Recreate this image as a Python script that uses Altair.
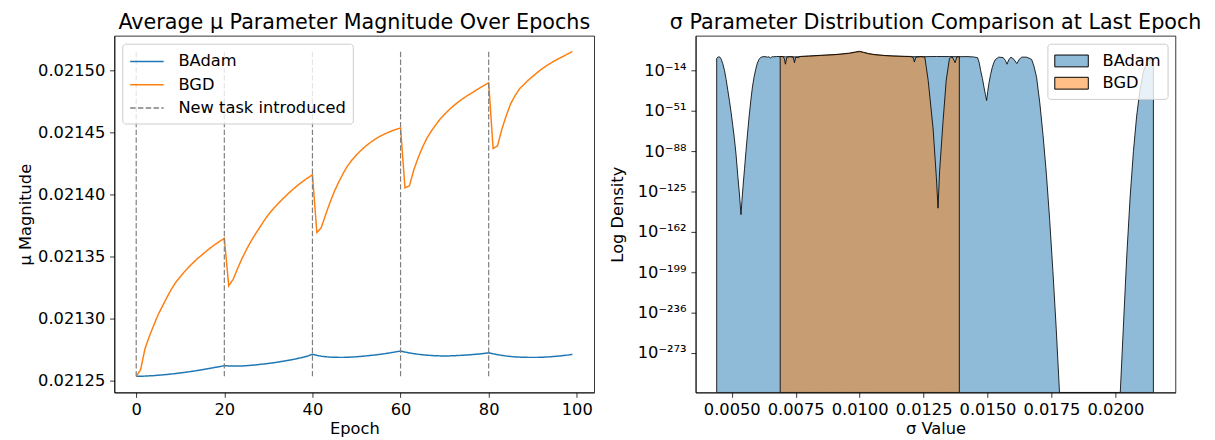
import altair as alt
import pandas as pd

# ---------------- data: left panel ----------------
epochs = list(range(100))
badam_mu = [
    0.0212536, 0.0212537, 0.0212538, 0.0212540, 0.0212542, 0.0212545, 0.0212548, 0.0212551, 0.0212555, 0.0212559,
    0.0212563, 0.0212568, 0.0212573, 0.0212578, 0.0212584, 0.0212590, 0.0212596, 0.0212602, 0.0212609, 0.0212615,
    0.0212622, 0.0212620, 0.0212619, 0.0212619, 0.0212620, 0.0212622, 0.0212625, 0.0212628, 0.0212632, 0.0212636,
    0.0212640, 0.0212645, 0.0212650, 0.0212656, 0.0212662, 0.0212668, 0.0212675, 0.0212683, 0.0212691, 0.0212701,
    0.0212714, 0.0212705, 0.0212698, 0.0212694, 0.0212691, 0.0212690, 0.0212689, 0.0212689, 0.0212690, 0.0212692,
    0.0212694, 0.0212697, 0.0212700, 0.0212704, 0.0212708, 0.0212712, 0.0212717, 0.0212722, 0.0212728, 0.0212734,
    0.0212740, 0.0212732, 0.0212725, 0.0212719, 0.0212714, 0.0212710, 0.0212707, 0.0212704, 0.0212702, 0.0212701,
    0.0212701, 0.0212701, 0.0212702, 0.0212704, 0.0212706, 0.0212708, 0.0212711, 0.0212714, 0.0212717, 0.0212721,
    0.0212726, 0.0212718, 0.0212711, 0.0212705, 0.0212700, 0.0212696, 0.0212693, 0.0212691, 0.0212690, 0.0212689,
    0.0212689, 0.0212689, 0.0212690, 0.0212692, 0.0212694, 0.0212697, 0.0212700, 0.0212704, 0.0212708, 0.0212713,
]
bgd_mu = [
    0.0212536, 0.0212590, 0.0212760, 0.0212860, 0.0212950, 0.0213035, 0.0213105, 0.0213175, 0.0213240, 0.0213295,
    0.0213340, 0.0213382, 0.0213420, 0.0213455, 0.0213488, 0.0213518, 0.0213548, 0.0213576, 0.0213602, 0.0213626,
    0.0213649, 0.0213266, 0.0213318, 0.0213405, 0.0213485, 0.0213557, 0.0213622, 0.0213681, 0.0213735, 0.0213790,
    0.0213840, 0.0213882, 0.0213921, 0.0213958, 0.0213993, 0.0214026, 0.0214057, 0.0214086, 0.0214113, 0.0214138,
    0.0214161, 0.0213696, 0.0213735, 0.0213840, 0.0213940, 0.0214030, 0.0214105, 0.0214175, 0.0214235, 0.0214282,
    0.0214322, 0.0214358, 0.0214390, 0.0214418, 0.0214443, 0.0214465, 0.0214484, 0.0214500, 0.0214515, 0.0214528,
    0.0214539, 0.0214056, 0.0214072, 0.0214200, 0.0214300, 0.0214385, 0.0214458, 0.0214515, 0.0214565, 0.0214612,
    0.0214650, 0.0214685, 0.0214717, 0.0214746, 0.0214772, 0.0214796, 0.0214818, 0.0214840, 0.0214862, 0.0214883,
    0.0214904, 0.0214374, 0.0214395, 0.0214530, 0.0214640, 0.0214735, 0.0214800, 0.0214855, 0.0214890, 0.0214925,
    0.0214955, 0.0214985, 0.0215013, 0.0215038, 0.0215060, 0.0215081, 0.0215100, 0.0215118, 0.0215137, 0.0215156,
]
task_epochs = [0, 20, 40, 60, 80]

epoch_ticks = [0, 20, 40, 60, 80, 100]
mu_ticks = [0.02125, 0.02130, 0.02135, 0.02140, 0.02145, 0.02150]

# ---------------- data: right panel ----------------
badam_sigma = [
    0.004411, 0.004450, 0.004500, 0.004550, 0.004592, 0.004650, 0.004720, 0.004780, 0.004846, 0.004910,
    0.004977, 0.005040, 0.005104, 0.005170, 0.005231, 0.005300, 0.005362, 0.005400, 0.005439, 0.005500,
    0.005555, 0.005620, 0.005682, 0.005745, 0.005809, 0.005875, 0.005940, 0.006000, 0.006067, 0.006130,
    0.006194, 0.006300, 0.006387, 0.006450, 0.006518, 0.006580, 0.006645, 0.006750, 0.006900, 0.007100,
    0.007300, 0.007500, 0.007700, 0.008000, 0.008500, 0.009000, 0.009300, 0.009600, 0.009850, 0.010000,
    0.010150, 0.010350, 0.010600, 0.011000, 0.011300, 0.011700, 0.012000, 0.012500, 0.013000, 0.013500,
    0.013900, 0.014200, 0.014450, 0.014610, 0.014680, 0.014734, 0.014800, 0.014862, 0.014920, 0.014966,
    0.015010, 0.015054, 0.015120, 0.015185, 0.015250, 0.015312, 0.015440, 0.015609, 0.015700, 0.015763,
    0.015830, 0.015917, 0.016030, 0.016148, 0.016240, 0.016341, 0.016533, 0.016726, 0.016820, 0.016919,
    0.017046, 0.017173, 0.017304, 0.017430, 0.017558, 0.017689, 0.017816, 0.020192, 0.020320, 0.020447,
    0.020578, 0.020705, 0.020832, 0.020963, 0.021090, 0.021217, 0.021348, 0.021487,
]
badam_logd = [
    -2.7, -1.6, -1.2, -1.8, -3.6, -7.5, -14.0, -22.0, -31.8, -41.5,
    -52.5, -64.0, -76.3, -91.2, -109.0, -127.0, -146.0, -133.0, -120.8, -104.0,
    -88.2, -71.0, -55.5, -41.5, -28.9, -19.5, -12.5, -7.0, -3.6, -1.8,
    -1.2, -1.0, -1.5, -1.2, -2.2, -1.1, -1.2, -0.9, -1.0, -1.2,
    -1.1, -1.3, -1.0, -0.7, 0.0, 0.6, 1.2, 1.9, 2.9, 3.4,
    2.7, 1.5, 0.6, -0.2, -0.6, -0.9, -1.1, -1.1, -0.9, -1.0,
    -1.1, -1.0, -1.3, -2.0, -7.0, -14.0, -21.0, -28.9, -36.0, -41.3,
    -33.0, -25.9, -17.5, -11.1, -6.5, -3.6, -1.5, -1.9, -4.5, -8.0,
    -4.0, -1.5, -3.5, -7.4, -3.5, -1.5, -1.5, -3.6, -10.0, -20.0,
    -43.7, -73.3, -109.0, -150.5, -198.0, -251.4, -309.2, -309.2, -245.4, -183.1,
    -129.7, -88.2, -55.6, -31.8, -15.5, -6.6, -3.6, -2.7,
]
bgd_sigma = [
    0.006895, 0.007000, 0.007050, 0.007100, 0.007150, 0.007250, 0.007400, 0.007454, 0.007500, 0.007600,
    0.007700, 0.008000, 0.008500, 0.009000, 0.009300, 0.009600, 0.009850, 0.009990, 0.010150, 0.010350,
    0.010600, 0.011000, 0.011300, 0.011700, 0.012000, 0.012100, 0.012140, 0.012200, 0.012400, 0.012550,
    0.012681, 0.012874, 0.013001, 0.013066, 0.013128, 0.013259, 0.013386, 0.013513, 0.013620, 0.013733,
    0.013800, 0.013899,
]
bgd_logd = [
    -0.9, -1.0, -2.5, -8.0, -2.0, -1.0, -1.5, -6.6, -1.5, -1.8,
    -0.8, -0.5, 0.2, 0.8, 1.4, 2.2, 3.3, 3.9, 3.0, 1.8,
    0.8, 0.0, -0.4, -0.7, -0.9, -2.0, -6.0, -1.5, -1.0, -1.5,
    -22.9, -67.4, -111.9, -140.1, -105.9, -61.5, -22.9, -2.7, -1.2, -6.6,
    -1.5, -1.0,
]
density_floor = -309.2  # bottom of the log-density axis

sigma_ticks = [0.005, 0.0075, 0.01, 0.0125, 0.015, 0.0175, 0.02]
logd_ticks = [-14, -51, -88, -125, -162, -199, -236, -273]
logd_labels = ["10⁻¹⁴", "10⁻⁵¹", "10⁻⁸⁸", "10⁻¹²⁵", "10⁻¹⁶²", "10⁻¹⁹⁹", "10⁻²³⁶", "10⁻²⁷³"]

FONT = "DejaVu Sans"
PW, PH = 487, 362

# ---------------- left panel ----------------
series_domain = ["BAdam", "BGD", "New task introduced"]
series_colors = ["#1f77b4", "#ff7f0e", "#7f7f7f"]
series_dash = [[1, 0], [1, 0], [5.5, 2.4]]

mu_df = pd.DataFrame({
    "epoch": epochs + epochs,
    "value": badam_mu + bgd_mu,
    "series": ["BAdam"] * len(epochs) + ["BGD"] * len(epochs),
})
all_mu = badam_mu + bgd_mu
task_df = pd.DataFrame({
    "epoch": task_epochs,
    "lo": [min(all_mu)] * len(task_epochs),
    "hi": [max(all_mu)] * len(task_epochs),
    "series": ["New task introduced"] * len(task_epochs),
})

left_legend = alt.Legend(
    title=None, orient="top-left", offset=8, padding=7,
    fillColor="rgba(255,255,255,0.8)", strokeColor="#cccccc", cornerRadius=3,
    labelFont=FONT, labelFontSize=16.5, labelColor="black", labelLimit=0,
    symbolType="M-1,0H2.4", symbolSize=400, symbolStrokeWidth=1.5,
    rowPadding=3.6, labelOffset=28,
)
color_l = alt.Color("series:N", scale=alt.Scale(domain=series_domain, range=series_colors), legend=left_legend)
dash_l = alt.StrokeDash("series:N", scale=alt.Scale(domain=series_domain, range=series_dash), legend=left_legend)

x_ep = alt.X("epoch:Q", title="Epoch",
             scale=alt.Scale(domain=[-4.95, 103.95], nice=False, zero=False),
             axis=alt.Axis(values=epoch_ticks, format="d", labelFlush=False, titlePadding=2))
y_axis_l = alt.Axis(values=mu_ticks, format=".5f", minExtent=78, maxExtent=78, titlePadding=4)
y_scale_l = alt.Scale(domain=[0.0212406, 0.0215282], nice=False, zero=False)

lines = alt.Chart(mu_df).mark_line(strokeWidth=1.5, clip=True).encode(
    x=x_ep,
    y=alt.Y("value:Q", title="μ Magnitude", scale=y_scale_l, axis=y_axis_l),
    color=color_l,
    strokeDash=dash_l,
)
rules = alt.Chart(task_df).mark_rule(strokeWidth=1.2).encode(
    x=alt.X("epoch:Q"),
    y=alt.Y("lo:Q", title="μ Magnitude"),
    y2="hi:Q",
    color=color_l,
    strokeDash=dash_l,
)
left = alt.layer(lines, rules).properties(
    width=PW, height=PH,
    title=alt.TitleParams("Average μ Parameter Magnitude Over Epochs"),
)

# ---------------- right panel ----------------
method_domain = ["BAdam", "BGD"]
method_fill = ["rgba(31,119,180,0.5)", "rgba(255,127,14,0.5)"]

badam_df = pd.DataFrame({"sigma": badam_sigma, "logd": badam_logd,
                         "base": [density_floor] * len(badam_sigma),
                         "method": ["BAdam"] * len(badam_sigma)})
bgd_df = pd.DataFrame({"sigma": bgd_sigma, "logd": bgd_logd,
                       "base": [density_floor] * len(bgd_sigma),
                       "method": ["BGD"] * len(bgd_sigma)})

label_expr = "".join(f"datum.value == {v} ? '{lab}' : " for v, lab in zip(logd_ticks, logd_labels)) + "''"

right_legend = alt.Legend(
    title=None, orient="top-right", offset=8, padding=7,
    fillColor="rgba(255,255,255,0.8)", strokeColor="#cccccc", cornerRadius=3,
    labelFont=FONT, labelFontSize=16.5, labelColor="black", labelLimit=0,
    symbolType="M-1,-0.6H2.4V0.6H-1Z", symbolSize=400,
    symbolStrokeColor="black", symbolStrokeWidth=1,
    rowPadding=3.6, labelOffset=28,
)
fill_r = alt.Fill("method:N", scale=alt.Scale(domain=method_domain, range=method_fill), legend=right_legend)
x_sig = alt.X("sigma:Q", title="σ Value",
              scale=alt.Scale(domain=[0.00359, 0.02235], nice=False, zero=False),
              axis=alt.Axis(values=sigma_ticks, format=".4f", labelFlush=False, labelOverlap=False, titlePadding=2))
y_scale_r = alt.Scale(domain=[density_floor, 18.04], nice=False, zero=False)
y_ld = alt.Y("logd:Q", title="Log Density", scale=y_scale_r,
             axis=alt.Axis(values=logd_ticks, labelExpr=label_expr, minExtent=63, maxExtent=63, titlePadding=8))


def area_layer(df):
    return alt.Chart(df).mark_area(
        stroke="black", strokeWidth=1, strokeOpacity=0.85, interpolate="linear", clip=True
    ).encode(
        x=x_sig, y=y_ld, y2=alt.Y2("base:Q"), fill=fill_r
    )


right = alt.layer(area_layer(badam_df), area_layer(bgd_df)).properties(
    width=PW, height=PH,
    title=alt.TitleParams("σ Parameter Distribution Comparison at Last Epoch"),
)

chart = alt.hconcat(left, right, spacing=14).resolve_scale(
    color="independent", fill="independent", strokeDash="independent"
).resolve_legend(
    color="independent", fill="independent", strokeDash="independent"
).properties(
    padding={"left": 9, "top": 0, "right": 5, "bottom": 0},
).configure(
    font=FONT,
).configure_axis(
    labelFont=FONT, titleFont=FONT, labelFontSize=16.5, titleFontSize=16.5,
    titleFontWeight="normal", labelColor="black", titleColor="black",
    tickColor="black", domainColor="black", tickSize=4.9, tickWidth=0.8,
    domainWidth=0.8, labelPadding=4.9, grid=False,
).configure_title(
    font=FONT, fontSize=21, fontWeight="normal", color="black",
    anchor="middle", frame="group", offset=3,
).configure_view(
    stroke="black", strokeWidth=0.8,
)

chart.save("out.html", embed_options={"renderer": "svg", "actions": False})
